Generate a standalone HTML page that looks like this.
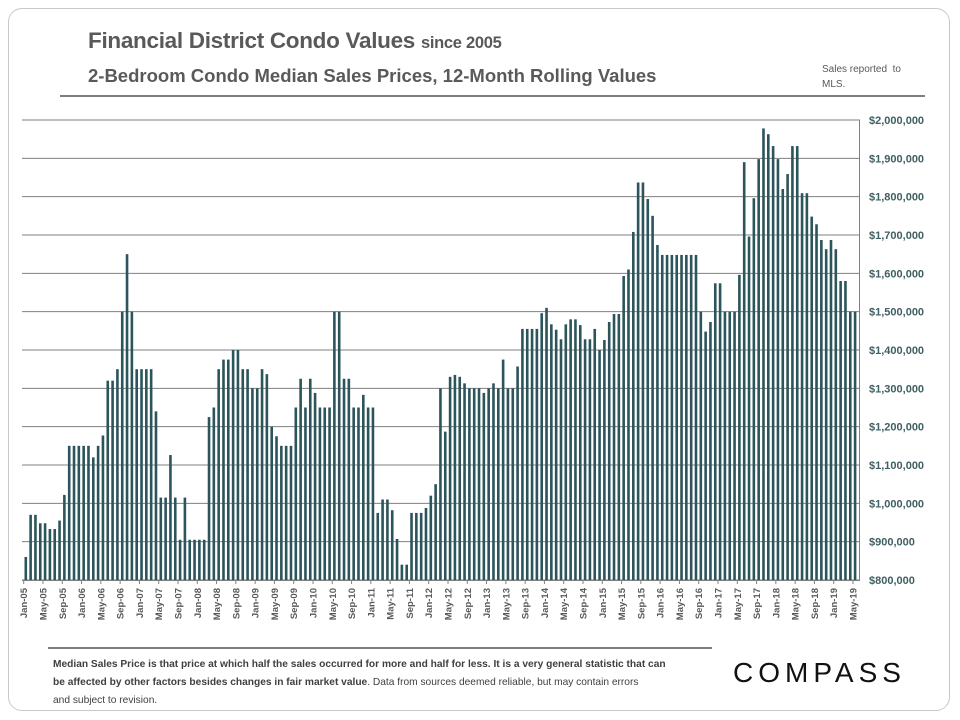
<!DOCTYPE html>
<html><head><meta charset="utf-8"><style>
body{margin:0;background:#fff;}
#wrap{position:relative;width:960px;height:720px;overflow:hidden;font-family:"Liberation Sans",sans-serif;}
.frame{position:absolute;left:8px;top:8px;width:942px;height:703px;border:1px solid #c8c8c8;border-radius:14px;box-sizing:border-box;}
.t1{position:absolute;left:88px;top:28px;font-size:22.5px;font-weight:bold;color:#595959;letter-spacing:-0.3px;}
.t1 span{font-size:16.5px;}
.t2{position:absolute;left:88px;top:65px;font-size:18.5px;font-weight:bold;color:#595959;}
.note{position:absolute;left:822px;top:62px;font-size:10px;color:#595959;line-height:15px;}
.foot{position:absolute;left:53px;top:656px;width:700px;font-size:10.2px;color:#404040;line-height:18px;white-space:nowrap;}
.logo{position:absolute;left:733px;top:657px;font-size:28px;letter-spacing:5px;color:#111;}
</style></head><body>
<div id="wrap">
<div class="frame"></div>
<div class="t1">Financial District Condo Values <span>since 2005</span></div>
<div class="t2">2-Bedroom Condo Median Sales Prices, 12-Month Rolling Values</div>
<div class="note">Sales reported &nbsp;to<br>MLS.</div>
<svg id="chart" width="960" height="720" style="position:absolute;left:0;top:0"></svg>
<div class="foot"><b style="color:#404040">Median Sales Price is that price at which half the sales occurred for more and half for less. It is a very general statistic that can<br>be affected by other factors besides changes in fair market value</b>. Data from sources deemed reliable, but may contain errors<br>and subject to revision.</div>
<div class="logo">COMPASS</div>
</div>
<script>
const months=["Jan","Feb","Mar","Apr","May","Jun","Jul","Aug","Sep","Oct","Nov","Dec"];
const startYear=2005;
const values=[860,970,970,948,948,933,933,955,1022,1150,1150,1150,1150,1150,1120,1150,1177,1320,1320,1350,1500,1650,1500,1350,1350,1350,1350,1240,1015,1015,
1126,1015,905,1015,905,905,905,905,1225,1250,1350,1375,1375,1400,1400,1350,1350,1300,1300,1350,1337,1200,1175,1150,1150,1150,1250,1325,1250,1325,
1288,1250,1250,1250,1500,1500,1325,1325,1250,1250,1283,1250,1250,975,1010,1010,982,907,840,840,975,975,975,988,1020,1050,1300,1187,1330,1335,
1330,1313,1300,1300,1300,1288,1300,1313,1300,1375,1300,1300,1357,1455,1455,1455,1455,1496,1510,1467,1453,1428,1467,1480,1480,1465,1428,1428,1455,1400,
1426,1473,1494,1494,1593,1610,1708,1837,1837,1794,1750,1674,1648,1648,1648,1648,1648,1648,1648,1648,1500,1448,1473,1574,1574,1500,1500,1500,1596,1890,
1696,1796,1898,1978,1963,1932,1898,1820,1859,1932,1932,1809,1809,1748,1728,1687,1663,1687,1663,1580,1580,1500,1500];
const yTicks=[800,900,1000,1100,1200,1300,1400,1500,1600,1700,1800,1900,2000];
const svg=document.getElementById('chart');const NS='http://www.w3.org/2000/svg';
const X0=25.7,STEP=(855-25.7)/(values.length-1);
const y=v=>580-(v-800)*460/1200;
const x=i=>X0+i*STEP;
function mk(t,a){const e=document.createElementNS(NS,t);for(const k in a)e.setAttribute(k,a[k]);svg.appendChild(e);return e;}
let l=mk('line',{x1:60,y1:96,x2:925,y2:96,stroke:'#7f7f7f','stroke-width':2});


yTicks.forEach(v=>{
 const g=mk('line',{x1:22,x2:860,y1:y(v),y2:y(v),stroke:'#808080','stroke-width':1});
 
 
 const t=mk('text',{x:869,y:y(v)+4,'font-size':11,'font-weight':'bold',fill:'#3f5f63','font-family':'Liberation Sans, sans-serif'});
 t.textContent='$'+(v*1000).toLocaleString('en-US');
 
 
});
let vl=mk('line',{x1:859.5,x2:859.5,y1:120,y2:580,stroke:'#808080','stroke-width':1});


values.forEach((v,i)=>{
 const r=mk('rect',{x:x(i)-1.2,y:y(v),width:2.6,height:580-y(v),fill:'#2b555b'});
 
 
});
let bl=mk('line',{x1:22,x2:860,y1:580.5,y2:580.5,stroke:'#808080','stroke-width':1});


for(let i=0;i<values.length;i+=4){
 const tx=x(i)-2;
 const tk=mk('line',{x1:tx,x2:tx,y1:580,y2:584,stroke:'#808080'});
 
 
 const m=months[i%12]+'-'+String((startYear+Math.floor(i/12))%100).padStart(2,'0');
 const t=mk('text',{x:0,y:0,'font-size':9.5,'font-weight':'bold',fill:'#595959','text-anchor':'end','font-family':'Liberation Sans, sans-serif',transform:`translate(${tx+3.5},588) rotate(-90)`});
 t.textContent=m;
 
 
}
let fl=mk('line',{x1:48,x2:712,y1:648,y2:648,stroke:'#7f7f7f','stroke-width':2});


</script>
</body></html>
